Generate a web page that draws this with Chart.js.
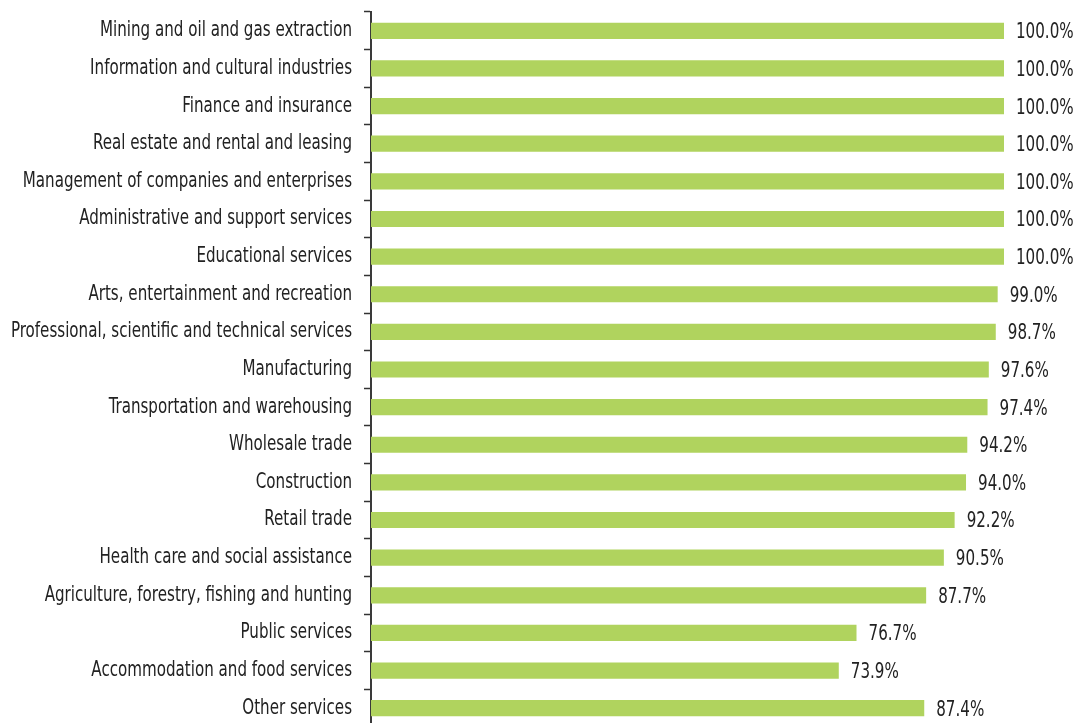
<!DOCTYPE html>
<html>
<head>
<meta charset="utf-8">
<title>Share by industry</title>
<script src="https://cdn.jsdelivr.net/npm/chart.js@4/dist/chart.umd.min.js"></script>
<style>
  html, body { margin: 0; padding: 0; background: #fff; overflow: hidden; }
  #wrap { width: 1080px; height: 740px; position: relative; }
</style>
</head>
<body>
<div id="wrap"><canvas id="chart"></canvas></div>
<script>
const industries = [
  'Mining and oil and gas extraction',
  'Information and cultural industries',
  'Finance and insurance',
  'Real estate and rental and leasing',
  'Management of companies and enterprises',
  'Administrative and support services',
  'Educational services',
  'Arts, entertainment and recreation',
  'Professional, scientific and technical services',
  'Manufacturing',
  'Transportation and warehousing',
  'Wholesale trade',
  'Construction',
  'Retail trade',
  'Health care and social assistance',
  'Agriculture, forestry, fishing and hunting',
  'Public services',
  'Accommodation and food services',
  'Other services'
];
const shares = [100.0, 100.0, 100.0, 100.0, 100.0, 100.0, 100.0, 99.0, 98.7, 97.6, 97.4, 94.2, 94.0, 92.2, 90.5, 87.7, 76.7, 73.9, 87.4];

const FONT = '"DejaVu Sans Condensed", "DejaVu Sans", sans-serif';
const SQUEEZE = 0.8; // narrow the text horizontally

function narrowText(ctx, text, x, y, align) {
  ctx.save();
  ctx.translate(x, y);
  ctx.scale(SQUEEZE, 1);
  ctx.textAlign = align;
  ctx.fillText(text, 0, 0);
  ctx.restore();
}

// category names left of the axis, percentages past each bar
const textLabels = {
  id: 'textLabels',
  afterDatasetsDraw(chart) {
    const ctx = chart.ctx;
    const yScale = chart.scales.y;
    const meta = chart.getDatasetMeta(0);
    ctx.save();
    ctx.fillStyle = '#222';
    ctx.textBaseline = 'middle';
    ctx.font = '21px ' + FONT;
    industries.forEach((name, i) => {
      narrowText(ctx, name, yScale.right - 19, yScale.getPixelForTick(i), 'right');
    });
    meta.data.forEach((bar, i) => {
      narrowText(ctx, shares[i].toFixed(1) + '%', bar.x + 12, bar.y + 2, 'left');
    });
    ctx.restore();
  }
};

new Chart(document.getElementById('chart'), {
  type: 'bar',
  data: {
    labels: industries,
    datasets: [{
      data: shares,
      backgroundColor: '#b0d35e',
      borderWidth: 0,
      categoryPercentage: 1,
      barPercentage: 0.43
    }]
  },
  options: {
    indexAxis: 'y',
    responsive: true,
    maintainAspectRatio: false,
    animation: false,
    layout: { padding: { top: 12, right: 76, bottom: 13, left: 0 } },
    plugins: {
      legend: { display: false },
      tooltip: { enabled: false }
    },
    scales: {
      x: {
        display: false,
        min: 0,
        max: 100
      },
      y: {
        afterFit: (scale) => {
          scale.width = 371;
          scale.paddingTop = 0;
          scale.paddingBottom = 0;
        },
        grid: {
          offset: true,
          drawOnChartArea: false,
          drawTicks: true,
          tickLength: 7,
          tickWidth: 1.5,
          tickColor: '#333'
        },
        border: { display: true, color: '#3a3a3a', width: 2 },
        ticks: { display: false, autoSkip: false }
      }
    }
  },
  plugins: [textLabels]
});
</script>
</body>
</html>
